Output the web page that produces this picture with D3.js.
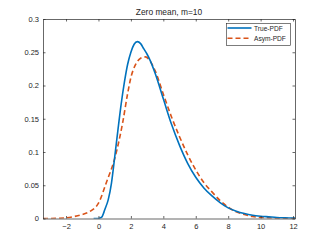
<!DOCTYPE html>
<html><head><meta charset="utf-8">
<script src="https://cdn.jsdelivr.net/npm/d3@7"></script>
<style>body{margin:0;background:#fff}svg{display:block}text{font-family:"Liberation Sans",Arial,sans-serif;fill:#262626}</style>
</head><body><svg id="c" width="327" height="245"></svg>
<script>
const titleText = "Zero mean, m=10";
const seriesNames = ["True-PDF", "Asym-PDF"];
const trueX = [-0.3,0,0.2,0.4,0.6,0.8,1.0,1.2,1.4,1.6,1.8,2.0,2.2,2.4,2.6,2.8,3.0,3.2,3.5,4.0,4.5,5.0,5.5,6.0,6.5,7.0,7.5,8.0,8.5,9.0,9.5,10,10.5,11,11.5,12,12.12];
const trueY = [0,0,0.002,0.014,0.028,0.053,0.092,0.133,0.172,0.205,0.232,0.250,0.262,0.266,0.263,0.255,0.247,0.237,0.218,0.180,0.142,0.110,0.083,0.062,0.046,0.034,0.024,0.016,0.011,0.0075,0.005,0.0035,0.0025,0.0015,0.001,0.0007,0.0006];
const asymX = [-3.42,-3,-2.5,-2,-1.5,-1,-0.5,0,0.5,1.0,1.5,1.8,2.0,2.3,2.6,2.9,3.2,3.5,4.0,4.5,5.0,5.5,6.0,6.5,7.0,7.5,8.0,8.5,9.0,9.5,10,10.5,11,12,12.12];
const asymY = [0,0,0.0003,0.001,0.003,0.006,0.011,0.023,0.055,0.090,0.145,0.188,0.212,0.232,0.241,0.243,0.236,0.222,0.187,0.153,0.123,0.096,0.073,0.054,0.040,0.027,0.017,0.010,0.006,0.003,0.0015,0.001,0.0005,0.0001,0.0001];
const xTicks = [-2,0,2,4,6,8,10,12];
const yTicks = [0,0.05,0.1,0.15,0.2,0.25,0.3];
const colors = ["#0072BD","#D95319"];

const svg = d3.select("#c");
const L=43,R=295,T=19,B=218.5;
const x = d3.scaleLinear().domain([-3.42,12.12]).range([L,R]);
const y = d3.scaleLinear().domain([0,0.3]).range([B,T]);

svg.append("clipPath").attr("id","cl").append("rect").attr("x",L).attr("y",T).attr("width",R-L).attr("height",B-T);

const line = d3.line().x(d=>x(d[0])).y(d=>y(d[1])).curve(d3.curveMonotoneX);
const g = svg.append("g").attr("clip-path","url(#cl)");
g.append("path").datum(asymX.map((v,i)=>[v,asymY[i]])).attr("d",line).attr("fill","none").attr("stroke",colors[1]).attr("stroke-width",1.6).attr("stroke-dasharray","5,3");
g.append("path").datum(trueX.map((v,i)=>[v,trueY[i]])).attr("d",line).attr("fill","none").attr("stroke",colors[0]).attr("stroke-width",1.6);

const ax = (gen, tr) => {
  const a = svg.append("g").attr("transform",tr).call(gen);
  a.select(".domain").attr("stroke","#262626").attr("stroke-width",0.7);
  a.selectAll(".tick line").attr("stroke","#262626").attr("stroke-width",0.7);
  a.selectAll("text").attr("font-size","7.5px").style("fill","#262626");
  return a;
};
ax(d3.axisBottom(x).tickValues(xTicks).tickSize(-2.5).tickPadding(5).tickSizeOuter(0), `translate(0,${B})`);
ax(d3.axisTop(x).tickValues(xTicks).tickSize(-2.5).tickFormat("").tickSizeOuter(0), `translate(0,${T})`);
ax(d3.axisLeft(y).tickValues(yTicks).tickSize(-2.5).tickPadding(4).tickSizeOuter(0).tickFormat(d3.format("~g")), `translate(${L},0)`);
ax(d3.axisRight(y).tickValues(yTicks).tickSize(-2.5).tickFormat("").tickSizeOuter(0), `translate(${R},0)`);

svg.append("text").attr("x",(L+R)/2).attr("y",T-4.5).attr("text-anchor","middle").attr("font-size","8.4px").text(titleText);

const lg = svg.append("g");
lg.append("rect").attr("x",226.5).attr("y",23.5).attr("width",64).attr("height",21.8).attr("fill","#fff").attr("stroke","#262626").attr("stroke-width",0.6);
seriesNames.forEach((n,i)=>{
  const yy = 28 + i*10.3;
  lg.append("line").attr("x1",227.5).attr("x2",251.5).attr("y1",yy).attr("y2",yy).attr("stroke",colors[i]).attr("stroke-width",1.6).attr("stroke-dasharray", i? "5,3":null);
  lg.append("text").attr("x",254).attr("y",yy+2.5).attr("font-size","6.6px").text(n);
});
</script></body></html>
